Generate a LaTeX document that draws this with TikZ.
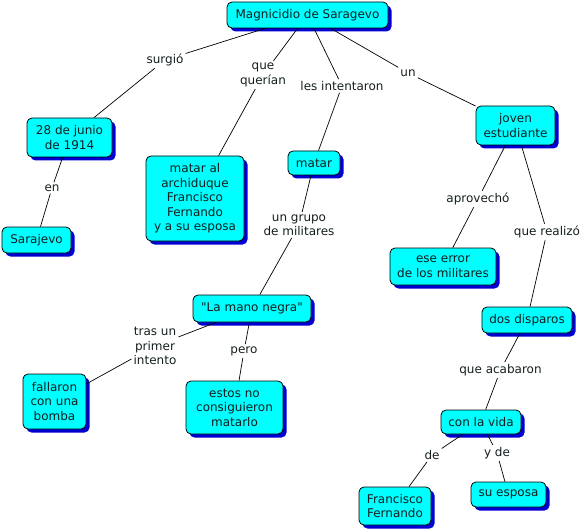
\documentclass[tikz,border=0pt]{standalone}
\usepackage{fontspec}
\setmainfont{DejaVu Sans}
\usetikzlibrary{shadows}
\definecolor{boxfill}{RGB}{0,255,255}
\definecolor{shadowblue}{RGB}{0,0,210}
\definecolor{txt}{RGB}{20,30,30}
\begin{document}
\begin{tikzpicture}[x=1pt,y=-1pt,
  box/.style={draw=black, line width=0.8pt, fill=boxfill, rounded corners=5pt, align=center, inner sep=0pt, text=txt,
    drop shadow={shadow xshift=3.5pt, shadow yshift=-3.5pt, fill=shadowblue, opacity=1},
    font=\fontsize{12}{14.5}\selectfont},
  lbl/.style={align=center, inner sep=2pt, text=txt, font=\fontsize{12}{14.5}\selectfont},
  conn/.style={draw=black, line width=0.7pt}]
\useasboundingbox (0,0) rectangle (584,532);
% concepts
\node[box, minimum width=161pt, minimum height=26pt] (mag) at (307.5,15) {Magnicidio de Saragevo};
\node[box, minimum width=85pt, minimum height=39pt] (d28) at (69.5,137.5) {28 de junio\\de 1914};
\node[box, minimum width=98pt, minimum height=85pt] (matal) at (195,198.5) {matar al\\archiduque\\Francisco\\Fernando\\y a su esposa};
\node[box, minimum width=69pt, minimum height=26pt] (saraj) at (36.5,240) {Sarajevo};
\node[box, minimum width=52pt, minimum height=24pt] (matar) at (314,163) {matar};
\node[box, minimum width=79pt, minimum height=39pt] (joven) at (515.5,125.5) {joven\\estudiante};
\node[box, minimum width=106pt, minimum height=37pt] (ese) at (443,266.5) {ese error\\de los militares};
\node[box, minimum width=118pt, minimum height=27pt] (mano) at (252,308.5) {\textquotedbl La mano negra\textquotedbl};
\node[box, minimum width=63pt, minimum height=55pt] (fall) at (54.5,401.5) {fallaron\\con una\\bomba};
\node[box, minimum width=97pt, minimum height=53pt] (estos) at (234.5,407.5) {estos no\\consiguieron\\matarlo};
\node[box, minimum width=90pt, minimum height=26pt] (dos) at (527,320) {dos disparos};
\node[box, minimum width=80pt, minimum height=24pt] (vida) at (481,422) {con la vida};
\node[box, minimum width=72pt, minimum height=38pt] (franc) at (395,506) {Francisco\\Fernando};
\node[box, minimum width=75pt, minimum height=25pt] (esp) at (508.5,494.5) {su esposa};
% linking phrases
\node[lbl] (l1) at (165,60) {surgió};
\node[lbl] (l2) at (263,75) {que\\querían};
\node[lbl] (l3) at (342,86) {les intentaron};
\node[lbl] (l4) at (408,73) {un};
\node[lbl] (l5) at (52,188) {en};
\node[lbl] (l6) at (299,225) {un grupo\\de militares};
\node[lbl] (l7) at (478,199) {aprovechó};
\node[lbl] (l8) at (547,232) {que realizó};
\node[lbl] (l9) at (155,346) {tras un\\primer\\intento};
\node[lbl] (l10) at (244,351) {pero};
\node[lbl] (l11) at (500.5,370) {que acabaron};
\node[lbl] (l12) at (432,455) {de};
\node[lbl] (l13) at (497,453) {y de};
% connectors
\path[conn] (mag) -- (l1) -- (d28);
\path[conn] (mag) -- (l2) -- (matal);
\path[conn] (mag) -- (l3) -- (matar);
\path[conn] (mag) -- (l4) -- (joven);
\path[conn] (d28) -- (l5) -- (saraj);
\path[conn] (matar) -- (l6) -- (mano);
\path[conn] (joven) -- (l7) -- (ese);
\path[conn] (joven) -- (l8) -- (dos);
\path[conn] (mano) -- (l9) -- (fall);
\path[conn] (mano) -- (l10) -- (estos);
\path[conn] (dos) -- (l11) -- (vida);
\path[conn] (vida) -- (l12) -- (franc);
\path[conn] (vida) -- (l13) -- (esp);
\end{tikzpicture}
\end{document}
